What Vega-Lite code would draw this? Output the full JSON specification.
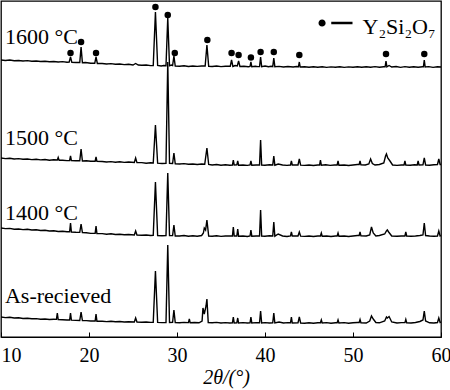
{
  "$schema": "https://vega.github.io/schema/vega-lite/v6.json",
  "width": 440,
  "height": 336,
  "autosize": {"type": "none"},
  "padding": {"left": 1, "top": 1, "right": 9, "bottom": 53},
  "background": "white",
  "config": {
    "view": {"stroke": "black", "strokeWidth": 1.3},
    "font": "Liberation Serif",
    "axis": {"labelFont": "Liberation Serif", "titleFont": "Liberation Serif"},
    "axisX": {"labelFont": "Liberation Serif", "titleFont": "Liberation Serif"},
    "style": {
      "guide-label": {"font": "Liberation Serif"},
      "guide-title": {"font": "Liberation Serif"}
    }
  },
  "datasets": {
    "xrd": [
      {"s":"1600","x":10,"y":60},{"s":"1600","x":10.5,"y":60.5},{"s":"1600","x":11,"y":60},{"s":"1600","x":11.5,"y":60.8},{"s":"1600","x":12,"y":60.5},{"s":"1600","x":12.5,"y":61},{"s":"1600","x":13,"y":60.6},{"s":"1600","x":13.5,"y":61.3},{"s":"1600","x":14,"y":61},{"s":"1600","x":14.5,"y":61.5},{"s":"1600","x":15,"y":61.2},{"s":"1600","x":15.5,"y":61.8},{"s":"1600","x":16,"y":61.5},{"s":"1600","x":16.5,"y":62},{"s":"1600","x":17,"y":61.6},{"s":"1600","x":17.5,"y":62.3},
      {"s":"1600","x":17.75,"y":62},{"s":"1600","x":17.9,"y":57},{"s":"1600","x":18.05,"y":62.3},{"s":"1600","x":18.5,"y":62.5},
      {"s":"1600","x":18.95,"y":62.5},{"s":"1600","x":19.1,"y":47},{"s":"1600","x":19.25,"y":62.8},{"s":"1600","x":19.6,"y":62.5},{"s":"1600","x":20.2,"y":63.2},
      {"s":"1600","x":20.65,"y":63.3},{"s":"1600","x":20.8,"y":57},{"s":"1600","x":20.95,"y":63.5},
      {"s":"1600","x":21.5,"y":63.5},{"s":"1600","x":22,"y":64},{"s":"1600","x":22.5,"y":63.6},{"s":"1600","x":23,"y":64.3},{"s":"1600","x":23.5,"y":64},{"s":"1600","x":24,"y":64.6},{"s":"1600","x":24.5,"y":64.2},{"s":"1600","x":25,"y":65},{"s":"1600","x":25.3,"y":63.5},{"s":"1600","x":25.6,"y":65},{"s":"1600","x":26,"y":65.3},{"s":"1600","x":26.5,"y":65},{"s":"1600","x":27,"y":65.6},
      {"s":"1600","x":27.3,"y":65.5},{"s":"1600","x":27.55,"y":12},{"s":"1600","x":27.8,"y":65.5},{"s":"1600","x":28.2,"y":66},{"s":"1600","x":28.5,"y":65.5},
      {"s":"1600","x":28.75,"y":65.8},{"s":"1600","x":28.95,"y":18},{"s":"1600","x":29.15,"y":65.8},{"s":"1600","x":29.35,"y":65},
      {"s":"1600","x":29.5,"y":65.5},{"s":"1600","x":29.65,"y":56},{"s":"1600","x":29.8,"y":66},
      {"s":"1600","x":30.3,"y":66.2},{"s":"1600","x":30.8,"y":65.8},{"s":"1600","x":31.3,"y":66.5},{"s":"1600","x":31.8,"y":66},{"s":"1600","x":32.3,"y":66.4},{"s":"1600","x":32.8,"y":66},
      {"s":"1600","x":33.2,"y":66},{"s":"1600","x":33.4,"y":45},{"s":"1600","x":33.6,"y":66.3},
      {"s":"1600","x":34,"y":66.5},{"s":"1600","x":34.5,"y":66},{"s":"1600","x":35,"y":66.6},{"s":"1600","x":35.5,"y":66.2},
      {"s":"1600","x":36.05,"y":66.3},{"s":"1600","x":36.2,"y":60},{"s":"1600","x":36.35,"y":66.5},{"s":"1600","x":36.6,"y":65.5},
      {"s":"1600","x":36.85,"y":66},{"s":"1600","x":37,"y":61},{"s":"1600","x":37.15,"y":66.5},{"s":"1600","x":37.6,"y":66.3},{"s":"1600","x":38.1,"y":66.8},
      {"s":"1600","x":38.3,"y":66.5},{"s":"1600","x":38.4,"y":62},{"s":"1600","x":38.5,"y":66.8},{"s":"1600","x":38.9,"y":66.2},{"s":"1600","x":39.2,"y":66.6},
      {"s":"1600","x":39.38,"y":66.5},{"s":"1600","x":39.5,"y":57},{"s":"1600","x":39.62,"y":66.6},{"s":"1600","x":40,"y":66},{"s":"1600","x":40.4,"y":66.8},{"s":"1600","x":40.7,"y":66.3},
      {"s":"1600","x":40.88,"y":66.6},{"s":"1600","x":41,"y":58},{"s":"1600","x":41.12,"y":66.7},
      {"s":"1600","x":41.6,"y":66.4},{"s":"1600","x":42.1,"y":67},{"s":"1600","x":42.6,"y":66.5},{"s":"1600","x":43.2,"y":67},{"s":"1600","x":43.6,"y":66.5},
      {"s":"1600","x":43.8,"y":66.8},{"s":"1600","x":43.9,"y":62},{"s":"1600","x":44,"y":67},
      {"s":"1600","x":44.5,"y":66.8},{"s":"1600","x":45,"y":67.3},{"s":"1600","x":45.5,"y":66.8},{"s":"1600","x":46,"y":67.2},{"s":"1600","x":46.5,"y":66.8},{"s":"1600","x":47,"y":67.4},{"s":"1600","x":47.5,"y":66.9},{"s":"1600","x":48,"y":67.3},{"s":"1600","x":48.5,"y":66.8},{"s":"1600","x":49,"y":67.4},{"s":"1600","x":49.5,"y":66.9},{"s":"1600","x":50,"y":67.3},{"s":"1600","x":50.5,"y":66.8},{"s":"1600","x":51,"y":67.3},{"s":"1600","x":51.5,"y":66.8},{"s":"1600","x":52,"y":67.2},{"s":"1600","x":52.5,"y":66.6},{"s":"1600","x":53,"y":67.2},{"s":"1600","x":53.5,"y":66.8},
      {"s":"1600","x":53.65,"y":66.8},{"s":"1600","x":53.75,"y":61},{"s":"1600","x":53.85,"y":66.8},{"s":"1600","x":54.1,"y":65.5},{"s":"1600","x":54.4,"y":67},{"s":"1600","x":54.9,"y":66.5},{"s":"1600","x":55.4,"y":67.4},{"s":"1600","x":55.9,"y":66.6},{"s":"1600","x":56.4,"y":67.2},{"s":"1600","x":56.9,"y":66.8},{"s":"1600","x":57.4,"y":67.2},{"s":"1600","x":57.9,"y":66.8},
      {"s":"1600","x":58,"y":66.8},{"s":"1600","x":58.1,"y":60},{"s":"1600","x":58.2,"y":67},{"s":"1600","x":58.6,"y":66.6},{"s":"1600","x":59.1,"y":67.4},{"s":"1600","x":59.6,"y":66.8},{"s":"1600","x":60,"y":67},

      {"s":"1500","x":10,"y":158},{"s":"1500","x":10.5,"y":158.6},{"s":"1500","x":11,"y":158.2},{"s":"1500","x":11.5,"y":159},{"s":"1500","x":12,"y":158.6},{"s":"1500","x":12.5,"y":159.3},{"s":"1500","x":13,"y":159},{"s":"1500","x":13.5,"y":159.6},{"s":"1500","x":14,"y":159.2},{"s":"1500","x":14.5,"y":159.9},{"s":"1500","x":15,"y":159.5},{"s":"1500","x":15.5,"y":160.2},{"s":"1500","x":16,"y":159.8},
      {"s":"1500","x":16.4,"y":160},{"s":"1500","x":16.5,"y":157.5},{"s":"1500","x":16.6,"y":160.2},{"s":"1500","x":17,"y":160.2},{"s":"1500","x":17.5,"y":160.6},
      {"s":"1500","x":17.8,"y":160.5},{"s":"1500","x":17.9,"y":156},{"s":"1500","x":18,"y":160.6},{"s":"1500","x":18.5,"y":160.8},
      {"s":"1500","x":18.95,"y":160.8},{"s":"1500","x":19.1,"y":149},{"s":"1500","x":19.25,"y":161},{"s":"1500","x":19.7,"y":160.8},{"s":"1500","x":20.2,"y":161.3},
      {"s":"1500","x":20.7,"y":161.2},{"s":"1500","x":20.8,"y":157},{"s":"1500","x":20.9,"y":161.4},
      {"s":"1500","x":21.5,"y":161.5},{"s":"1500","x":22,"y":162},{"s":"1500","x":22.5,"y":161.6},{"s":"1500","x":23,"y":162.2},{"s":"1500","x":23.5,"y":161.8},{"s":"1500","x":24,"y":162.4},{"s":"1500","x":24.5,"y":162},
      {"s":"1500","x":25.15,"y":162.5},{"s":"1500","x":25.3,"y":158},{"s":"1500","x":25.45,"y":162.6},{"s":"1500","x":26,"y":162.6},{"s":"1500","x":26.5,"y":163.2},{"s":"1500","x":27,"y":162.8},
      {"s":"1500","x":27.3,"y":163},{"s":"1500","x":27.55,"y":125},{"s":"1500","x":27.8,"y":163.2},{"s":"1500","x":28.3,"y":163.5},
      {"s":"1500","x":28.75,"y":163.4},{"s":"1500","x":28.95,"y":62},{"s":"1500","x":29.15,"y":163.4},
      {"s":"1500","x":29.5,"y":163.5},{"s":"1500","x":29.65,"y":153},{"s":"1500","x":29.8,"y":163.8},
      {"s":"1500","x":30.3,"y":164},{"s":"1500","x":30.8,"y":163.6},{"s":"1500","x":31.3,"y":164.3},{"s":"1500","x":31.8,"y":164},{"s":"1500","x":32.3,"y":164.5},{"s":"1500","x":32.8,"y":164},
      {"s":"1500","x":33.15,"y":164.3},{"s":"1500","x":33.4,"y":148},{"s":"1500","x":33.6,"y":164.5},
      {"s":"1500","x":34,"y":165},{"s":"1500","x":34.5,"y":164.5},{"s":"1500","x":35,"y":165.2},{"s":"1500","x":35.5,"y":164.8},{"s":"1500","x":36,"y":165.2},
      {"s":"1500","x":36.3,"y":165},{"s":"1500","x":36.4,"y":160},{"s":"1500","x":36.5,"y":165},
      {"s":"1500","x":36.8,"y":164.8},{"s":"1500","x":36.9,"y":161},{"s":"1500","x":37,"y":165.2},{"s":"1500","x":37.5,"y":165},{"s":"1500","x":38,"y":165.4},
      {"s":"1500","x":38.3,"y":165},{"s":"1500","x":38.4,"y":161},{"s":"1500","x":38.5,"y":165.2},{"s":"1500","x":39,"y":165},
      {"s":"1500","x":39.38,"y":165},{"s":"1500","x":39.5,"y":140},{"s":"1500","x":39.62,"y":165},{"s":"1500","x":40,"y":165.2},{"s":"1500","x":40.5,"y":164.8},
      {"s":"1500","x":40.88,"y":165},{"s":"1500","x":41,"y":156},{"s":"1500","x":41.12,"y":165.2},{"s":"1500","x":41.5,"y":164},{"s":"1500","x":42,"y":165},{"s":"1500","x":42.5,"y":165.4},
      {"s":"1500","x":42.9,"y":165},{"s":"1500","x":43,"y":161},{"s":"1500","x":43.1,"y":165},
      {"s":"1500","x":43.75,"y":165},{"s":"1500","x":43.9,"y":159},{"s":"1500","x":44.05,"y":165.2},{"s":"1500","x":44.5,"y":165.4},{"s":"1500","x":45,"y":165},{"s":"1500","x":45.5,"y":165.5},{"s":"1500","x":46,"y":165},
      {"s":"1500","x":46.2,"y":165},{"s":"1500","x":46.3,"y":160},{"s":"1500","x":46.4,"y":165.2},{"s":"1500","x":46.9,"y":164.8},{"s":"1500","x":47.4,"y":165.4},{"s":"1500","x":47.9,"y":165},
      {"s":"1500","x":48.2,"y":165},{"s":"1500","x":48.3,"y":161},{"s":"1500","x":48.4,"y":165.3},{"s":"1500","x":49,"y":165},{"s":"1500","x":49.5,"y":165.5},{"s":"1500","x":50,"y":165},{"s":"1500","x":50.5,"y":164.5},
      {"s":"1500","x":50.7,"y":164.5},{"s":"1500","x":50.8,"y":161},{"s":"1500","x":50.9,"y":164.8},{"s":"1500","x":51.4,"y":165},
      {"s":"1500","x":51.8,"y":164},{"s":"1500","x":52,"y":159},{"s":"1500","x":52.2,"y":163.5},{"s":"1500","x":52.5,"y":165},{"s":"1500","x":53,"y":164.5},
      {"s":"1500","x":53.5,"y":163},{"s":"1500","x":53.7,"y":156},{"s":"1500","x":53.8,"y":154},{"s":"1500","x":53.95,"y":158},{"s":"1500","x":54.2,"y":161},{"s":"1500","x":54.5,"y":165},{"s":"1500","x":55,"y":165.4},{"s":"1500","x":55.5,"y":165},
      {"s":"1500","x":55.8,"y":165},{"s":"1500","x":55.9,"y":161},{"s":"1500","x":56,"y":165},{"s":"1500","x":56.5,"y":165.3},{"s":"1500","x":57,"y":164.8},
      {"s":"1500","x":57.3,"y":165},{"s":"1500","x":57.4,"y":161},{"s":"1500","x":57.5,"y":165},
      {"s":"1500","x":57.95,"y":164.8},{"s":"1500","x":58.1,"y":158},{"s":"1500","x":58.25,"y":165},{"s":"1500","x":58.7,"y":165.2},{"s":"1500","x":59.2,"y":164.8},
      {"s":"1500","x":59.6,"y":164.5},{"s":"1500","x":59.75,"y":159},{"s":"1500","x":59.9,"y":164.5},{"s":"1500","x":60,"y":164.5},

      {"s":"1400","x":10,"y":228},{"s":"1400","x":10.5,"y":228.6},{"s":"1400","x":11,"y":228.4},{"s":"1400","x":11.5,"y":229.2},{"s":"1400","x":12,"y":229},{"s":"1400","x":12.5,"y":229.6},{"s":"1400","x":13,"y":229.3},{"s":"1400","x":13.5,"y":230},{"s":"1400","x":14,"y":229.8},{"s":"1400","x":14.5,"y":230.5},{"s":"1400","x":15,"y":230.2},{"s":"1400","x":15.5,"y":231},{"s":"1400","x":16,"y":230.8},{"s":"1400","x":16.5,"y":231.5},{"s":"1400","x":17,"y":231.2},{"s":"1400","x":17.5,"y":231.8},
      {"s":"1400","x":17.8,"y":231.8},{"s":"1400","x":17.9,"y":223},{"s":"1400","x":18,"y":232},{"s":"1400","x":18.5,"y":232.3},
      {"s":"1400","x":18.95,"y":232.4},{"s":"1400","x":19.1,"y":224},{"s":"1400","x":19.25,"y":232.6},{"s":"1400","x":19.7,"y":232.8},{"s":"1400","x":20.2,"y":233.4},
      {"s":"1400","x":20.7,"y":233.3},{"s":"1400","x":20.8,"y":226},{"s":"1400","x":20.9,"y":233.5},
      {"s":"1400","x":21.5,"y":233.6},{"s":"1400","x":22,"y":234.2},{"s":"1400","x":22.5,"y":233.8},{"s":"1400","x":23,"y":234.5},{"s":"1400","x":23.5,"y":234.2},{"s":"1400","x":24,"y":234.8},{"s":"1400","x":24.5,"y":234.5},
      {"s":"1400","x":25.15,"y":235},{"s":"1400","x":25.3,"y":231},{"s":"1400","x":25.45,"y":235},{"s":"1400","x":26,"y":235.3},{"s":"1400","x":26.5,"y":235},{"s":"1400","x":27,"y":235.5},
      {"s":"1400","x":27.3,"y":235.4},{"s":"1400","x":27.55,"y":182},{"s":"1400","x":27.8,"y":235.5},{"s":"1400","x":28.3,"y":235.8},
      {"s":"1400","x":28.75,"y":235.6},{"s":"1400","x":28.95,"y":173},{"s":"1400","x":29.15,"y":235.6},
      {"s":"1400","x":29.5,"y":235.6},{"s":"1400","x":29.65,"y":225},{"s":"1400","x":29.8,"y":236},
      {"s":"1400","x":30.3,"y":236},{"s":"1400","x":30.8,"y":235.5},{"s":"1400","x":31.3,"y":236.2},{"s":"1400","x":31.8,"y":235.8},{"s":"1400","x":32.3,"y":236.2},{"s":"1400","x":32.8,"y":235.5},
      {"s":"1400","x":33,"y":233},{"s":"1400","x":33.1,"y":228},{"s":"1400","x":33.25,"y":230},{"s":"1400","x":33.4,"y":220},{"s":"1400","x":33.6,"y":236},
      {"s":"1400","x":34,"y":236.2},{"s":"1400","x":34.5,"y":235.8},{"s":"1400","x":35,"y":236.4},{"s":"1400","x":35.5,"y":236},
      {"s":"1400","x":36.3,"y":236},{"s":"1400","x":36.4,"y":227},{"s":"1400","x":36.5,"y":236},
      {"s":"1400","x":36.8,"y":236},{"s":"1400","x":36.9,"y":229},{"s":"1400","x":37,"y":236.2},{"s":"1400","x":37.5,"y":236},{"s":"1400","x":38,"y":236.5},
      {"s":"1400","x":38.3,"y":236},{"s":"1400","x":38.4,"y":230},{"s":"1400","x":38.5,"y":236.2},{"s":"1400","x":39,"y":236},
      {"s":"1400","x":39.38,"y":236},{"s":"1400","x":39.5,"y":210},{"s":"1400","x":39.62,"y":236},{"s":"1400","x":40,"y":236.3},{"s":"1400","x":40.5,"y":235.8},
      {"s":"1400","x":40.88,"y":236},{"s":"1400","x":41,"y":222},{"s":"1400","x":41.12,"y":236.2},{"s":"1400","x":41.5,"y":234},{"s":"1400","x":42,"y":236},{"s":"1400","x":42.5,"y":236.5},
      {"s":"1400","x":42.9,"y":236},{"s":"1400","x":43,"y":232},{"s":"1400","x":43.1,"y":236},
      {"s":"1400","x":43.75,"y":236},{"s":"1400","x":43.9,"y":232},{"s":"1400","x":44.05,"y":236.2},{"s":"1400","x":44.5,"y":236.4},{"s":"1400","x":45,"y":236},{"s":"1400","x":45.5,"y":236.5},{"s":"1400","x":46,"y":236},
      {"s":"1400","x":46.3,"y":236},{"s":"1400","x":46.4,"y":233},{"s":"1400","x":46.5,"y":236.2},{"s":"1400","x":47,"y":236},{"s":"1400","x":47.5,"y":236.5},{"s":"1400","x":48,"y":236},
      {"s":"1400","x":48.2,"y":236},{"s":"1400","x":48.3,"y":233},{"s":"1400","x":48.4,"y":236.3},{"s":"1400","x":49,"y":236},{"s":"1400","x":49.5,"y":236.5},{"s":"1400","x":50,"y":236},{"s":"1400","x":50.5,"y":235.5},
      {"s":"1400","x":50.7,"y":235.5},{"s":"1400","x":50.8,"y":232},{"s":"1400","x":50.9,"y":235.8},{"s":"1400","x":51.5,"y":236},
      {"s":"1400","x":51.9,"y":235},{"s":"1400","x":52.1,"y":227},{"s":"1400","x":52.3,"y":233},{"s":"1400","x":52.6,"y":236},{"s":"1400","x":53,"y":235.5},
      {"s":"1400","x":53.6,"y":234},{"s":"1400","x":53.8,"y":231},{"s":"1400","x":53.9,"y":230},{"s":"1400","x":54.05,"y":232},{"s":"1400","x":54.4,"y":236},{"s":"1400","x":55,"y":236.3},{"s":"1400","x":55.5,"y":236},
      {"s":"1400","x":55.9,"y":236},{"s":"1400","x":56,"y":232},{"s":"1400","x":56.1,"y":236},{"s":"1400","x":56.6,"y":236.3},{"s":"1400","x":57.1,"y":236},{"s":"1400","x":57.6,"y":235.5},
      {"s":"1400","x":57.95,"y":235},{"s":"1400","x":58.1,"y":223},{"s":"1400","x":58.25,"y":235.5},{"s":"1400","x":58.7,"y":236},{"s":"1400","x":59.2,"y":236.3},
      {"s":"1400","x":59.6,"y":236},{"s":"1400","x":59.75,"y":231},{"s":"1400","x":59.9,"y":236},{"s":"1400","x":60,"y":235.5},

      {"s":"AR","x":10,"y":317},{"s":"AR","x":10.5,"y":317.6},{"s":"AR","x":11,"y":317.3},{"s":"AR","x":11.5,"y":318},{"s":"AR","x":12,"y":317.8},{"s":"AR","x":12.5,"y":318.5},{"s":"AR","x":13,"y":318.2},{"s":"AR","x":13.5,"y":318.8},{"s":"AR","x":14,"y":318.6},{"s":"AR","x":14.5,"y":319.2},{"s":"AR","x":15,"y":319},{"s":"AR","x":15.5,"y":319.5},{"s":"AR","x":16,"y":319.3},
      {"s":"AR","x":16.3,"y":319.4},{"s":"AR","x":16.4,"y":313},{"s":"AR","x":16.5,"y":319.5},{"s":"AR","x":17,"y":319.7},{"s":"AR","x":17.5,"y":320},
      {"s":"AR","x":17.8,"y":320},{"s":"AR","x":17.9,"y":313},{"s":"AR","x":18,"y":320.2},{"s":"AR","x":18.5,"y":320.4},
      {"s":"AR","x":18.95,"y":320.5},{"s":"AR","x":19.1,"y":312},{"s":"AR","x":19.25,"y":320.6},{"s":"AR","x":19.7,"y":320.6},{"s":"AR","x":20.2,"y":321},
      {"s":"AR","x":20.7,"y":321},{"s":"AR","x":20.8,"y":314},{"s":"AR","x":20.9,"y":321.2},
      {"s":"AR","x":21.5,"y":321.2},{"s":"AR","x":22,"y":321.6},{"s":"AR","x":22.5,"y":321.3},{"s":"AR","x":23,"y":321.8},{"s":"AR","x":23.5,"y":321.5},{"s":"AR","x":24,"y":322},{"s":"AR","x":24.5,"y":321.7},
      {"s":"AR","x":25.15,"y":322},{"s":"AR","x":25.3,"y":318},{"s":"AR","x":25.45,"y":322},{"s":"AR","x":26,"y":322.3},{"s":"AR","x":26.5,"y":322},{"s":"AR","x":27,"y":322.4},
      {"s":"AR","x":27.3,"y":322.3},{"s":"AR","x":27.55,"y":271},{"s":"AR","x":27.8,"y":322.4},{"s":"AR","x":28.3,"y":322.6},
      {"s":"AR","x":28.75,"y":322.5},{"s":"AR","x":28.95,"y":245},{"s":"AR","x":29.15,"y":322.5},
      {"s":"AR","x":29.5,"y":322.4},{"s":"AR","x":29.65,"y":310},{"s":"AR","x":29.8,"y":322.6},{"s":"AR","x":30.3,"y":322.8},{"s":"AR","x":30.8,"y":322.4},
      {"s":"AR","x":31.3,"y":322.6},{"s":"AR","x":31.4,"y":319},{"s":"AR","x":31.5,"y":322.8},{"s":"AR","x":32,"y":322.5},{"s":"AR","x":32.5,"y":322.8},
      {"s":"AR","x":32.85,"y":321},{"s":"AR","x":32.95,"y":308},{"s":"AR","x":33.1,"y":314},{"s":"AR","x":33.2,"y":310},{"s":"AR","x":33.3,"y":306},{"s":"AR","x":33.4,"y":299},{"s":"AR","x":33.55,"y":322.5},
      {"s":"AR","x":34,"y":322.8},{"s":"AR","x":34.5,"y":322.4},{"s":"AR","x":35,"y":323},{"s":"AR","x":35.5,"y":322.6},{"s":"AR","x":36,"y":323},
      {"s":"AR","x":36.3,"y":322.8},{"s":"AR","x":36.4,"y":317},{"s":"AR","x":36.5,"y":323},
      {"s":"AR","x":36.8,"y":322.8},{"s":"AR","x":36.9,"y":318},{"s":"AR","x":37,"y":323},{"s":"AR","x":37.5,"y":322.6},{"s":"AR","x":38,"y":323},
      {"s":"AR","x":38.3,"y":322.8},{"s":"AR","x":38.4,"y":317},{"s":"AR","x":38.5,"y":323},{"s":"AR","x":39,"y":322.6},
      {"s":"AR","x":39.38,"y":322.8},{"s":"AR","x":39.5,"y":311},{"s":"AR","x":39.62,"y":323},{"s":"AR","x":40,"y":322.6},{"s":"AR","x":40.5,"y":323},
      {"s":"AR","x":40.88,"y":322.8},{"s":"AR","x":41,"y":313},{"s":"AR","x":41.12,"y":323},{"s":"AR","x":41.6,"y":322},{"s":"AR","x":42.1,"y":323},{"s":"AR","x":42.6,"y":322.6},
      {"s":"AR","x":42.9,"y":322.8},{"s":"AR","x":43,"y":317},{"s":"AR","x":43.1,"y":323},
      {"s":"AR","x":43.75,"y":322.8},{"s":"AR","x":43.9,"y":317},{"s":"AR","x":44.05,"y":323},{"s":"AR","x":44.5,"y":323.2},{"s":"AR","x":45,"y":322.8},{"s":"AR","x":45.5,"y":323.3},{"s":"AR","x":46,"y":322.8},
      {"s":"AR","x":46.3,"y":322.8},{"s":"AR","x":46.4,"y":320},{"s":"AR","x":46.5,"y":323},{"s":"AR","x":47,"y":322.6},{"s":"AR","x":47.5,"y":323.2},{"s":"AR","x":48,"y":322.8},
      {"s":"AR","x":48.2,"y":322.8},{"s":"AR","x":48.3,"y":320},{"s":"AR","x":48.4,"y":323},{"s":"AR","x":49,"y":322.6},{"s":"AR","x":49.5,"y":323.2},{"s":"AR","x":50,"y":322.8},{"s":"AR","x":50.5,"y":322.5},
      {"s":"AR","x":50.7,"y":322.5},{"s":"AR","x":50.8,"y":319.5},{"s":"AR","x":50.9,"y":322.8},{"s":"AR","x":51.5,"y":323},
      {"s":"AR","x":51.9,"y":321},{"s":"AR","x":52.1,"y":316},{"s":"AR","x":52.3,"y":319},{"s":"AR","x":52.6,"y":322.5},{"s":"AR","x":53,"y":322.8},
      {"s":"AR","x":53.6,"y":321},{"s":"AR","x":53.8,"y":317},{"s":"AR","x":53.9,"y":318},{"s":"AR","x":54.1,"y":316.5},{"s":"AR","x":54.4,"y":322},{"s":"AR","x":55,"y":323},{"s":"AR","x":55.5,"y":322.6},
      {"s":"AR","x":55.9,"y":322.6},{"s":"AR","x":56,"y":319.5},{"s":"AR","x":56.1,"y":322.8},{"s":"AR","x":56.6,"y":323},{"s":"AR","x":57.1,"y":322.5},{"s":"AR","x":57.6,"y":321.5},
      {"s":"AR","x":57.95,"y":320},{"s":"AR","x":58.1,"y":311},{"s":"AR","x":58.25,"y":321},{"s":"AR","x":58.7,"y":322.8},{"s":"AR","x":59.2,"y":323},
      {"s":"AR","x":59.6,"y":322.5},{"s":"AR","x":59.75,"y":318},{"s":"AR","x":59.9,"y":322.5},{"s":"AR","x":60,"y":322}
    ],
    "markers": [
      {"phase":"Y₂Si₂O₇","x":17.9,"y":53},{"phase":"Y₂Si₂O₇","x":19.1,"y":42},{"phase":"Y₂Si₂O₇","x":20.8,"y":53},
      {"phase":"Y₂Si₂O₇","x":27.55,"y":7},{"phase":"Y₂Si₂O₇","x":28.95,"y":15},{"phase":"Y₂Si₂O₇","x":29.75,"y":53},
      {"phase":"Y₂Si₂O₇","x":33.45,"y":40},{"phase":"Y₂Si₂O₇","x":36.2,"y":53},{"phase":"Y₂Si₂O₇","x":37.0,"y":55},
      {"phase":"Y₂Si₂O₇","x":38.4,"y":57.5},{"phase":"Y₂Si₂O₇","x":39.5,"y":52},{"phase":"Y₂Si₂O₇","x":41.0,"y":52},
      {"phase":"Y₂Si₂O₇","x":43.9,"y":55},{"phase":"Y₂Si₂O₇","x":53.75,"y":54},{"phase":"Y₂Si₂O₇","x":58.1,"y":54}
    ],
    "labels": [
      {"label":"1600 °C","x":10.45,"y":44},
      {"label":"1500 °C","x":10.45,"y":145},
      {"label":"1400 °C","x":10.45,"y":220},
      {"label":"As-recieved","x":10.45,"y":303}
    ]
  },
  "encoding": {
    "x": {
      "field": "x", "type": "quantitative",
      "scale": {"domain": [10, 60], "nice": false, "zero": false},
      "axis": {
        "title": "2θ/(°)",
        "values": [10, 20, 30, 40, 50, 60],
        "grid": false,
        "tickSize": -5,
        "tickColor": "black",
        "domainColor": "black",
        "labelFont": {"condition": {"test": "datum.value == 10", "value": "Liberation Serif"}, "value": "Liberation Serif"},
        "labelAlign": {"condition": {"test": "datum.value == 10", "value": "left"}, "value": "center"},
        "labelFontSize": 20,
        "labelColor": "black",
        "labelPadding": 13,
        "titleFont": "Liberation Serif",
        "titleFontSize": 20,
        "titleFontStyle": "italic",
        "titleFontWeight": "normal",
        "titleColor": "black",
        "titlePadding": 2,
        "titleX": 225
      }
    },
    "y": {
      "field": "y", "type": "quantitative",
      "scale": {"domain": [1, 337], "reverse": true, "nice": false, "zero": false},
      "axis": null
    }
  },
  "layer": [
    {
      "data": {"name": "xrd"},
      "mark": {"type": "line", "color": "black", "strokeWidth": 1.4, "clip": true},
      "encoding": {
        "detail": {"field": "s", "type": "nominal"}
      }
    },
    {
      "data": {"name": "markers"},
      "mark": {"type": "point", "shape": "circle", "filled": true, "size": 42, "opacity": 1},
      "encoding": {
        "color": {
          "field": "phase", "type": "nominal",
          "scale": {"range": ["black"]},
          "legend": {
            "title": null,
            "orient": "none",
            "legendX": 317.5,
            "legendY": 9.4,
            "padding": 0,
            "symbolType": "M -1 -0.26 A 0.21 0.21 0 1 0 -0.58 -0.26 A 0.21 0.21 0 1 0 -1 -0.26 Z M -0.25 -0.33 L 1 -0.33 L 1 -0.19 L -0.25 -0.19 Z",
            "symbolSize": 1156,
            "symbolFillColor": "black",
            "symbolStrokeColor": "black",
            "symbolStrokeWidth": 0,
            "symbolOpacity": 1,
            "labelFont": "Liberation Serif",
            "labelFontSize": 22,
            "labelColor": "black",
            "labelOffset": 10,
            "labelLimit": 0
          }
        }
      }
    },
    {
      "data": {"name": "labels"},
      "mark": {"type": "text", "align": "left", "baseline": "alphabetic", "fontSize": 22, "font": "Liberation Serif", "color": "black"},
      "encoding": {
        "text": {"field": "label", "type": "nominal"}
      }
    }
  ]
}
